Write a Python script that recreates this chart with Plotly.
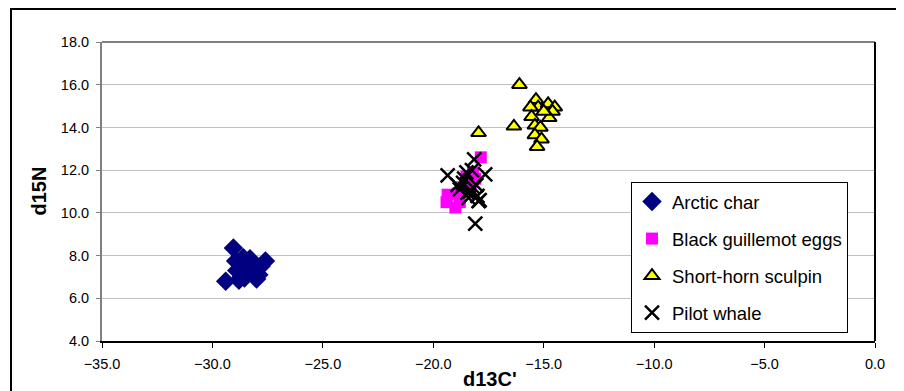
import plotly.graph_objects as go

# ---- data ----
char_x = [-29.05, -28.95, -28.6, -28.3, -28.1, -27.8, -27.6, -28.9, -28.5, -28.2,
          -27.9, -29.4, -28.8, -28.55, -28.0, -28.4, -28.7, -28.15]
char_y = [8.35, 7.75, 7.9, 7.85, 7.6, 7.5, 7.75, 7.3, 7.2, 7.4,
          7.1, 6.8, 6.85, 6.95, 6.9, 7.55, 7.0, 7.25]

egg_x = [-17.85, -19.35, -19.4, -19.0, -18.8, -18.7, -18.4, -18.2, -18.6, -18.3,
         -18.9, -18.1, -18.5]
egg_y = [12.6, 10.85, 10.5, 10.25, 10.5, 11.2, 11.5, 11.9, 11.0, 11.3,
         10.9, 11.6, 11.7]

sculpin_x = [-16.1, -16.35, -17.95, -15.35, -15.25, -14.8, -14.5, -14.6, -15.6, -15.55,
             -15.4, -15.15, -15.4, -15.1, -15.3, -14.75, -15.0]
sculpin_y = [16.0, 14.05, 13.75, 15.3, 14.95, 15.1, 14.95, 14.75, 14.95, 14.5,
             14.1, 14.0, 13.65, 13.45, 13.1, 14.45, 14.75]

whale_x = [-18.15, -19.35, -17.65, -18.1, -17.95, -18.35, -18.65, -18.5, -18.9, -18.2,
           -18.0, -18.4, -18.8, -18.6, -18.25, -18.05, -17.9, -18.45]
whale_y = [12.5, 11.75, 11.8, 9.5, 10.55, 11.0, 11.4, 11.9, 11.3, 11.2,
           10.8, 10.7, 11.1, 11.6, 12.0, 11.3, 10.6, 10.95]

series_names = ["Arctic char", "Black guillemot eggs", "Short-horn sculpin", "Pilot whale"]
x_title = "d13C'"
y_title = "d15N"

FONT = "Liberation Sans, Arial, sans-serif"

fig = go.Figure()
fig.add_trace(go.Scatter(
    x=char_x, y=char_y, mode="markers", name=series_names[0], legendgroup="a",
    marker=dict(symbol="diamond", size=15, color="#000080", line=dict(width=0))))
fig.add_trace(go.Scatter(
    x=egg_x, y=egg_y, mode="markers", name=series_names[1], legendgroup="b",
    marker=dict(symbol="square", size=12, color="#FF00FF", line=dict(width=0))))
fig.add_trace(go.Scatter(
    x=sculpin_x, y=sculpin_y, mode="markers", name=series_names[2], legendgroup="c",
    marker=dict(symbol="triangle-up", size=13, color="#FFFF00",
                line=dict(width=2, color="black"))))
fig.add_trace(go.Scatter(
    x=whale_x, y=whale_y, mode="markers", name=series_names[3], legendgroup="d",
    marker=dict(symbol="x-thin", size=14, color="black",
                line=dict(width=2.5, color="black"))))

# page (window) pixel geometry; the html body adds an 8px margin
OFF = 8
PAGE_W, PAGE_H = 904, 391
W, H = PAGE_W - OFF, PAGE_H - OFF
L, R, T, B = 102, 875, 42, 341          # plot area in page pixels
pw, ph = R - L, B - T

def px2paper_x(px):
    return (px - L) / pw

def px2paper_y(py):
    return (B - py) / ph

shapes = [
    # outer chart border (extends past the window on right/bottom)
    dict(type="rect", xref="paper", yref="paper",
         x0=px2paper_x(11), x1=px2paper_x(915), y0=px2paper_y(405), y1=px2paper_y(9),
         line=dict(color="black", width=2), fillcolor="rgba(0,0,0,0)", layer="above"),
    # plot-area top (grey) and right (black) edges
    dict(type="line", xref="paper", yref="paper", x0=0, x1=1, y0=1, y1=1,
         line=dict(color="#808080", width=2)),
    dict(type="line", xref="paper", yref="paper", x0=1, x1=1, y0=0, y1=1,
         line=dict(color="black", width=2)),
]

annotations = [
    dict(text="<b>%s</b>" % y_title, xref="paper", yref="paper",
         x=px2paper_x(38), y=0.5, showarrow=False, textangle=-90,
         font=dict(family=FONT, size=20, color="black"),
         xanchor="center", yanchor="middle"),
    dict(text="<b>%s</b>" % x_title, xref="paper", yref="paper",
         x=px2paper_x(490), y=px2paper_y(379), showarrow=False,
         font=dict(family=FONT, size=20, color="black"),
         xanchor="center", yanchor="middle"),
]

fig.update_layout(
    width=W, height=H,
    margin=dict(l=L - OFF, r=PAGE_W - R, t=T - OFF, b=PAGE_H - B, pad=0),
    paper_bgcolor="white", plot_bgcolor="white",
    font=dict(family=FONT, color="black", size=14.5),
    showlegend=True,
    legend=dict(
        x=px2paper_x(848), y=px2paper_y(182), xanchor="right", yanchor="top",
        bgcolor="white", bordercolor="black", borderwidth=1,
        font=dict(family=FONT, size=18.5, color="black"),
        tracegroupgap=10, itemwidth=30,
    ),
    shapes=shapes,
    annotations=annotations,
    xaxis=dict(
        range=[-35, 0], dtick=5, tick0=-35, tickformat=".1f",
        showgrid=False, zeroline=False,
        showline=True, linecolor="black", linewidth=2,
        ticks="outside", ticklen=5, tickcolor="black", tickwidth=1,
        ticklabelstandoff=4,
        tickfont=dict(family=FONT, size=14.5, color="black"),
    ),
    yaxis=dict(
        range=[4, 18], dtick=2, tick0=4, tickformat=".1f",
        showgrid=True, gridcolor="#c0c0c0", gridwidth=1, zeroline=False,
        showline=True, linecolor="#808080", linewidth=2,
        ticks="outside", ticklen=4, tickcolor="#808080", tickwidth=1,
        ticklabelstandoff=4,
        tickfont=dict(family=FONT, size=14.5, color="black"),
    ),
)

fig.write_html("out.html")
